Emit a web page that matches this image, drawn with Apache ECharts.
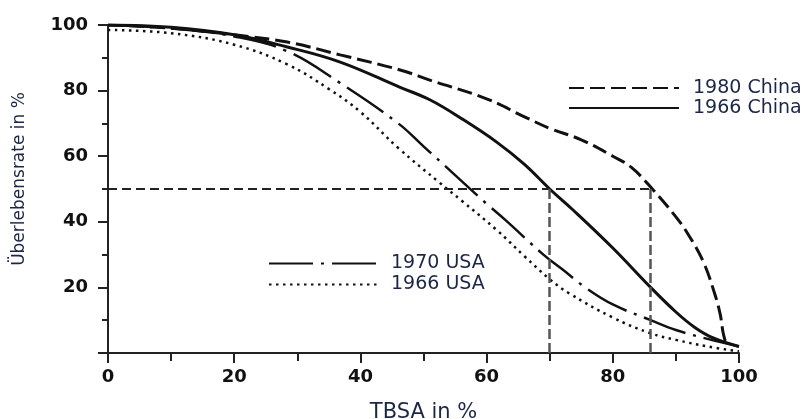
<!DOCTYPE html>
<html>
<head>
<meta charset="utf-8">
<script src="https://cdn.jsdelivr.net/npm/echarts@6/dist/echarts.min.js"></script>
<style>
  html, body { margin: 0; padding: 0; background: #fff; }
  #chart { width: 802px; height: 419px; }
</style>
</head>
<body>
<div id="chart"></div>
<script>
// survival curves: [TBSA %, survival %]
var china1980 = [[0, 100], [10, 99], [20, 97], [28.4, 94.8], [36.8, 90.9], [46.3, 86.3], [51, 83.2],
    [60, 77.5], [66, 72], [70, 68.5], [75, 65], [80, 60], [83, 56.5], [86.4, 49.7], [90, 41.5],
    [92, 36], [94.3, 28], [96, 19], [97, 12], [97.5, 6], [98, 2.5]];
var china1966 = [[0, 100], [10, 99.3], [20, 97], [28.4, 93.3], [36.8, 88.7], [46.3, 81], [51, 77.2],
    [56, 71.5], [61.6, 64.3], [66, 57.5], [70, 50], [73.7, 43.6], [80, 32], [86, 20], [90, 12.5],
    [93, 7.8], [96, 4.5], [100, 2]];
var usa1970 = [[0, 100], [10, 99], [20, 96.5], [28.4, 92], [36.8, 82.3], [46, 70], [50, 63],
    [56, 52.5], [60, 45.5], [63, 40.5], [69, 30], [72, 25.5], [76, 19.5], [80, 14.8], [86, 10],
    [90, 7], [95, 4.3], [100, 2]];
var usa1966 = [[0, 98.5], [10, 97.5], [20, 94], [28.4, 88], [35, 80.5], [40, 73.5], [46, 62.5],
    [52.5, 52], [56, 46.5], [61.6, 37.5], [66, 29.5], [70, 22.5], [73, 18.3], [80, 10.8],
    [86, 6], [90, 4], [95, 2], [100, 0.5]];

var seriesNames = ['1980 China', '1966 China', '1970 USA', '1966 USA'];
var refLevel = 50;          // 50 % survival line
var refX = [70, 86];        // LA50 for 1966 and 1980 China

var ink = '#111';
var textBlue = '#1c2746';

var chart = echarts.init(document.getElementById('chart'));

function curve(name, data, width, dash) {
    return {
        name: name,
        type: 'line',
        data: data,
        symbol: 'none',
        smooth: 0.4,
        lineStyle: { color: ink, width: width, type: dash, cap: 'butt' },
        itemStyle: { color: ink },
        z: 3
    };
}

var series = [
    curve(seriesNames[0], china1980, 3, [15, 6]),
    curve(seriesNames[1], china1966, 3, 'solid'),
    curve(seriesNames[2], usa1970, 2.5, [44, 8, 3, 8]),
    curve(seriesNames[3], usa1966, 2.5, [2.5, 4.5])
];

// dashed guide lines at 50 %
series.push({
    type: 'line',
    data: [],
    silent: true,
    markLine: {
        symbol: 'none',
        silent: true,
        label: { show: false },
        data: [
            [{ coord: [0, refLevel], lineStyle: { color: '#222', width: 1.8, type: [9, 5] } },
             { coord: [refX[1], refLevel] }],
            [{ coord: [refX[0], refLevel], lineStyle: { color: '#555', width: 2.5, type: [10, 4] } },
             { coord: [refX[0], 0] }],
            [{ coord: [refX[1], refLevel], lineStyle: { color: '#555', width: 2.5, type: [10, 4] } },
             { coord: [refX[1], 0] }]
        ]
    }
});

var legendText = { fontFamily: 'DejaVu Sans', fontSize: 19, color: textBlue };

chart.setOption({
    backgroundColor: '#fff',
    animation: false,
    grid: { left: 108, right: 63, top: 25, bottom: 66, containLabel: false, outerBoundsMode: 'none' },
    legend: [
        {
            data: [seriesNames[0], seriesNames[1]],
            orient: 'vertical',
            left: 568,
            top: 78,
            padding: 0,
            itemWidth: 110,
            itemHeight: 14,
            itemGap: 0,
            itemStyle: { opacity: 0, borderWidth: 0 },
            textStyle: Object.assign({ padding: [0, 0, 0, 9], lineHeight: 20 }, legendText)
        },
        {
            data: [seriesNames[2], seriesNames[3]],
            orient: 'vertical',
            left: 268,
            top: 253,
            padding: 0,
            itemWidth: 112,
            itemHeight: 14,
            itemGap: 0,
            itemStyle: { opacity: 0, borderWidth: 0 },
            textStyle: Object.assign({ padding: [0, 0, 0, 5], lineHeight: 21 }, legendText)
        }
    ],
    xAxis: {
        type: 'value',
        min: 0,
        max: 100,
        interval: 20,
        name: 'TBSA in %',
        nameLocation: 'middle',
        nameGap: 49,
        nameTextStyle: { fontFamily: 'DejaVu Sans', fontSize: 21, color: textBlue },
        axisLine: { lineStyle: { color: '#222', width: 2 } },
        axisTick: { length: 10, lineStyle: { color: '#222', width: 2 } },
        minorTick: { show: true, splitNumber: 2, length: 8, lineStyle: { color: '#222', width: 2 } },
        splitLine: { show: false },
        axisLabel: { margin: 15, fontFamily: 'DejaVu Sans', fontWeight: 'bold', fontSize: 18, color: ink }
    },
    yAxis: {
        type: 'value',
        min: 0,
        max: 100,
        interval: 20,
        name: 'Überlebensrate in %',
        nameLocation: 'middle',
        nameGap: 80,
        nameTextStyle: { fontFamily: 'DejaVu Sans', fontSize: 17, color: textBlue, padding: [0, 0, 0, 20] },
        axisLine: { show: true, lineStyle: { color: '#222', width: 2 } },
        axisTick: { show: true, length: 10, lineStyle: { color: '#222', width: 2 } },
        minorTick: { show: true, splitNumber: 2, length: 6, lineStyle: { color: '#222', width: 2 } },
        splitLine: { show: false },
        axisLabel: {
            margin: 20,
            fontFamily: 'DejaVu Sans',
            fontWeight: 'bold',
            fontSize: 18,
            color: ink,
            formatter: function (v) { return v === 0 ? '' : v; }
        }
    },
    series: series
});
</script>
</body>
</html>
